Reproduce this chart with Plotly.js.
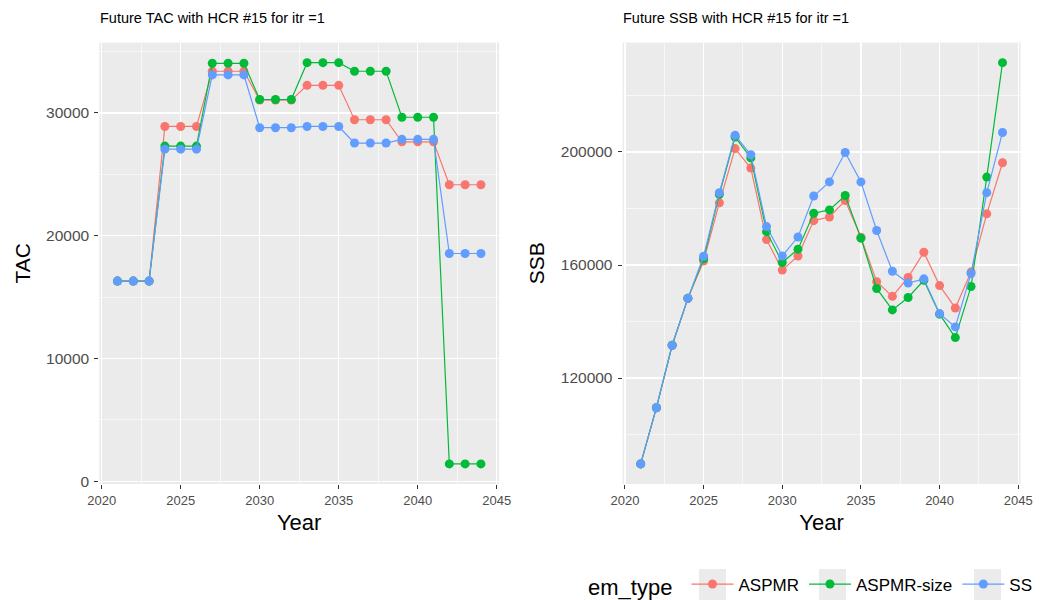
<!DOCTYPE html>
<html>
<head>
<meta charset="utf-8">
<script src="https://cdn.plot.ly/plotly-3.0.1.min.js"></script>
<style>html,body{margin:0;padding:0;background:#fff}#chart{width:1044px;height:600px}</style>
</head>
<body>
<div id="chart"></div>
<script>
const years = [2021,2022,2023,2024,2025,2026,2027,2028,2029,2030,2031,2032,2033,2034,2035,2036,2037,2038,2039,2040,2041,2042,2043,2044];
const emTypes = ["ASPMR","ASPMR-size","SS"];
const colors = ["#F8766D","#00BA38","#619CFF"];

const tacASPMR     = [16300,16300,16300,28900,28900,28900,33400,33400,33400,31050,31050,31050,32250,32250,32250,29450,29450,29450,27650,27650,27650,24150,24150,24150];
const tacASPMRsize = [16300,16300,16300,27300,27300,27300,34050,34050,34050,31100,31100,31100,34100,34100,34100,33400,33400,33400,29650,29650,29650,1400,1400,1400];
const tacSS        = [16300,16300,16300,27050,27050,27050,33100,33100,33100,28800,28800,28800,28900,28900,28900,27550,27550,27550,27850,27850,27850,18550,18550,18550];

const ssbASPMR     = [89600,109500,131600,148200,161400,182000,201200,194300,169000,158200,163200,175700,177000,182800,169800,154100,148900,155600,164500,152700,144800,157500,178100,196200];
const ssbASPMRsize = [89600,109500,131600,148200,162200,185000,205300,197900,171800,160900,165600,178300,179500,184600,169500,151700,144100,148500,154600,142600,134300,152400,191100,231600];
const ssbSS        = [89600,109500,131600,148200,163100,185600,205900,199000,173600,163200,169900,184400,189400,199800,189400,172200,157800,153600,155100,142800,138100,157000,185600,206900];

const tacSeries = [tacASPMR, tacASPMRsize, tacSS];
const ssbSeries = [ssbASPMR, ssbASPMRsize, ssbSS];

const traces = [];
emTypes.forEach((name, i) => {
  traces.push({
    x: years, y: tacSeries[i], name: name, legendgroup: name,
    type: "scatter", mode: "lines+markers",
    line: {color: colors[i], width: 1.2},
    marker: {color: colors[i], size: 9},
    xaxis: "x", yaxis: "y", showlegend: true
  });
});
emTypes.forEach((name, i) => {
  traces.push({
    x: years, y: ssbSeries[i], name: name, legendgroup: name,
    type: "scatter", mode: "lines+markers",
    line: {color: colors[i], width: 1.2},
    marker: {color: colors[i], size: 9},
    xaxis: "x2", yaxis: "y2", showlegend: false
  });
});

const W = 1044, H = 600;
const fx = p => p / W;
const fy = p => 1 - p / H;
const font = "Liberation Sans, Arial, sans-serif";

const xCommon = {
  range: [2019.85, 2045.15], tickvals: [2020,2025,2030,2035,2040,2045],
  ticks: "outside", ticklen: 4, tickcolor: "#333333", tickwidth: 1,
  tickfont: {family: font, size: 13, color: "#4D4D4D"},
  showgrid: true, gridcolor: "#FFFFFF", gridwidth: 1.2,
  minor: {tickvals: [2022.5,2027.5,2032.5,2037.5,2042.5], showgrid: true, gridcolor: "#FFFFFF", gridwidth: 0.6, ticks: ""},
  zeroline: false, showline: false, automargin: false,
  title: {text: "Year", font: {family: font, size: 22, color: "#000000"}, standoff: 8}
};

const yCommon = {
  ticks: "outside", ticklen: 4, tickcolor: "#333333", tickwidth: 1,
  tickfont: {family: font, size: 15.5, color: "#4D4D4D"},
  ticklabelstandoff: 2,
  showgrid: true, gridcolor: "#FFFFFF", gridwidth: 1.2,
  zeroline: false, showline: false, automargin: false
};

const keyBox = (x0) => ({type: "rect", xref: "paper", yref: "paper", x0: fx(x0), x1: fx(x0 + 27), y0: fy(600), y1: fy(569),
  fillcolor: "#EBEBEB", line: {width: 0}, layer: "below"});

const layout = {
  width: W, height: H,
  margin: {l: 0, r: 0, t: 0, b: 0, autoexpand: false},
  paper_bgcolor: "#FFFFFF", plot_bgcolor: "#EBEBEB",
  showlegend: true,
  xaxis: Object.assign({}, xCommon, {domain: [fx(99.3), fx(499.1)], anchor: "y"}),
  xaxis2: Object.assign({}, xCommon, {domain: [fx(622.6), fx(1020.6)], anchor: "y2"}),
  yaxis: Object.assign({}, yCommon, {
    domain: [fy(484), fy(42.6)], range: [-235, 35735], anchor: "x",
    tickvals: [0,10000,20000,30000], ticktext: ["0","10000","20000","30000"],
    minor: {tickvals: [5000,15000,25000,35000], showgrid: true, gridcolor: "#FFFFFF", gridwidth: 0.6, ticks: ""},
    title: {text: "TAC", font: {family: font, size: 21, color: "#000000"}, standoff: 9}
  }),
  yaxis2: Object.assign({}, yCommon, {
    domain: [fy(484), fy(42.6)], range: [82500, 238700], anchor: "x2",
    tickvals: [120000,160000,200000], ticktext: ["120000","160000","200000"],
    minor: {tickvals: [100000,140000,180000,220000], showgrid: true, gridcolor: "#FFFFFF", gridwidth: 0.6, ticks: ""},
    title: {text: "SSB", font: {family: font, size: 21, color: "#000000"}, standoff: 10}
  }),
  shapes: [keyBox(699), keyBox(819), keyBox(974)],
  annotations: [
    {text: "Future TAC with HCR #15 for itr =1", xref: "paper", yref: "paper", x: fx(98), y: fy(18), xanchor: "left", yanchor: "middle", showarrow: false,
     font: {family: font, size: 14.5, color: "#000000"}},
    {text: "Future SSB with HCR #15 for itr =1", xref: "paper", yref: "paper", x: fx(621), y: fy(18), xanchor: "left", yanchor: "middle", showarrow: false,
     font: {family: font, size: 14.5, color: "#000000"}}
  ],
  legend: {
    orientation: "h", x: fx(586), xanchor: "left",
    y: fy(586), yanchor: "middle",
    bgcolor: "rgba(0,0,0,0)",
    font: {family: font, size: 17, color: "#000000"},
    title: {text: "em_type ", side: "left", font: {family: font, size: 22, color: "#000000"}},
    itemwidth: 42
  }
};

Plotly.newPlot("chart", traces, layout, {staticPlot: true, displayModeBar: false});
</script>
</body>
</html>
